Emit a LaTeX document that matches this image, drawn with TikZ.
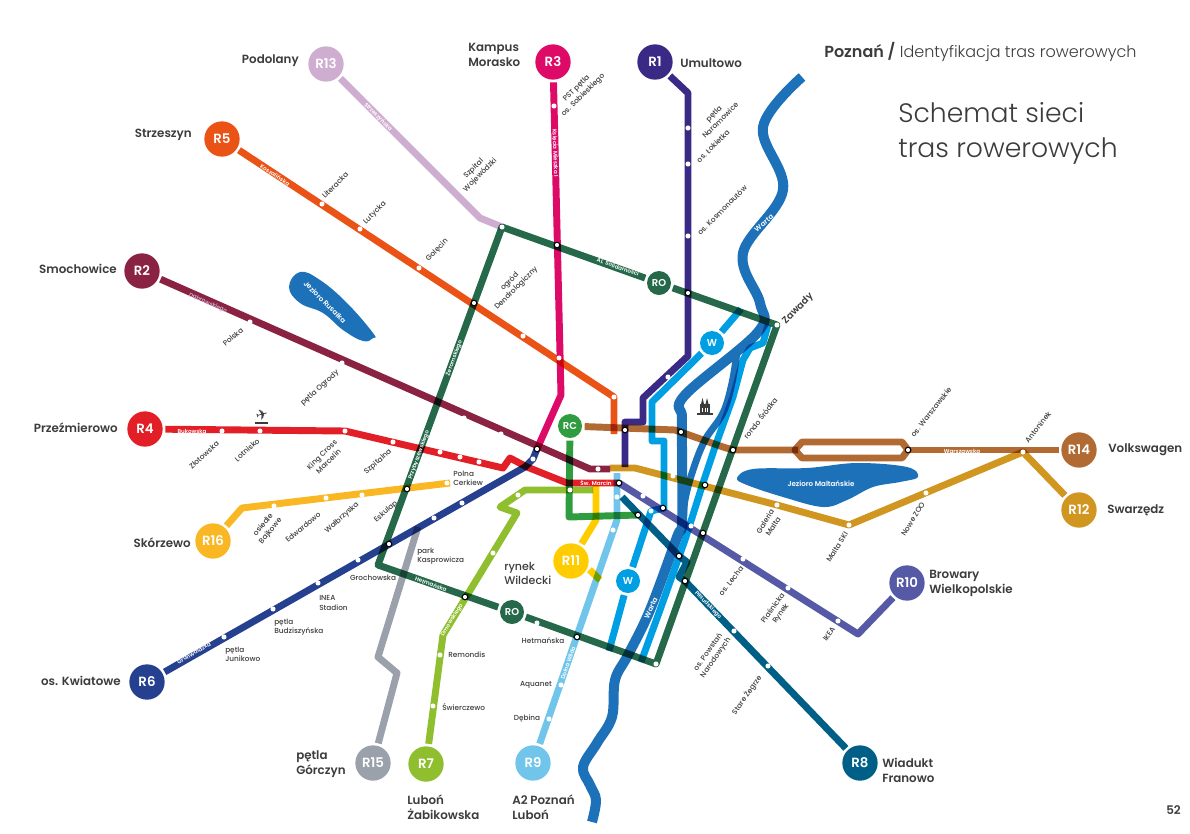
\documentclass[tikz,border=0pt]{standalone}
\usepackage{fontspec}
\setmainfont{Poppins Medium}[BoldFont={Poppins SemiBold}]
\newfontfamily\lightfont{Poppins Light}
\newfontfamily\symfont{DejaVu Sans}
\usetikzlibrary{positioning}
\definecolor{cone}{HTML}{3A2A85}
\definecolor{ctwo}{HTML}{8A2342}
\definecolor{cthree}{HTML}{DE0A68}
\definecolor{cfour}{HTML}{E21E26}
\definecolor{cfive}{HTML}{EB5316}
\definecolor{csix}{HTML}{25408F}
\definecolor{cseven}{HTML}{8FBE2E}
\definecolor{ceight}{HTML}{005F86}
\definecolor{cnine}{HTML}{72C5EA}
\definecolor{cten}{HTML}{5659A5}
\definecolor{celeven}{HTML}{FFCC00}
\definecolor{ctwelve}{HTML}{D09620}
\definecolor{cthirteen}{HTML}{CFADD1}
\definecolor{cfourteen}{HTML}{B26A33}
\definecolor{cfifteen}{HTML}{9BA1AB}
\definecolor{csixteen}{HTML}{F9B823}
\definecolor{crc}{HTML}{2E9C3F}
\definecolor{cro}{HTML}{26694A}
\definecolor{cw}{HTML}{009FE3}
\definecolor{cwarta}{HTML}{1D71B8}
\definecolor{ctext}{HTML}{3C3C3B}
\tikzset{
  routenode/.style={circle,fill=#1,text=white,minimum size=26.5pt,inner sep=0pt,outer sep=2pt,font=\fontsize{10}{10}\selectfont\bfseries},
  smallnode/.style={circle,fill=#1,text=white,minimum size=18pt,inner sep=0pt,outer sep=2pt,font=\fontsize{7.5}{8}\selectfont\bfseries},
  route/.style={draw=#1,line width=5.2pt,line join=round,blend mode=multiply},
  river/.style={draw=cwarta,line width=7.5pt,line join=round},
  stop/.style={circle,fill=white,minimum size=3.8pt,inner sep=0pt},
  hub/.style={circle,fill=white,draw=black,line width=.8pt,minimum size=4.2pt,inner sep=0pt},
  stopname/.style={text=ctext,align=center,inner sep=0pt,font=\fontsize{5.5}{7}\selectfont},
  leftname/.style={text=ctext,align=left,inner sep=0pt,anchor=west,font=\fontsize{5.5}{7}\selectfont},
  placename/.style={text=ctext,align=left,inner sep=0pt,anchor=west,font=\fontsize{8.9}{11.2}\selectfont\bfseries},
  street/.style={text=white,inner sep=0pt,font=\fontsize{4.2}{4.2}\selectfont\bfseries},
  water/.style={text=white,inner sep=0pt,font=\fontsize{5.3}{5.3}\selectfont\bfseries}
}
\begin{document}
\begin{tikzpicture}[x=.75pt,y=-.75pt]
\useasboundingbox (0,0) rectangle (1190,833);

\fill[cwarta] plot[smooth cycle,tension=.7] coordinates {(300,272) (320,280) (347,303) (373,333) (373,338) (363,341) (343,330) (323,313) (300,303) (289,287)};
\fill[cwarta] plot[smooth cycle,tension=.6] coordinates {(737,478) (753,469) (807,468) (857,463) (907,467) (918,477) (900,482) (873,487) (847,500) (823,507) (783,497) (747,485)};
\draw[river] plot[smooth,tension=.6] coordinates {(802,77) (763,127) (783,190) (743,253) (760,303) (758,332) (685,395) (682,417) (682,450) (682,523) (677,537) (650,610) (628,655) (615,680) (612,717) (597,743) (583,767) (590,785) (596,800) (592,822)};
\draw[river,line width=5.2pt] plot[smooth,tension=.6] coordinates {(737,352) (732,383) (723,413) (705,440) (693,470) (685,500) (683,525)};

\node[routenode=cone] (r1) at (655,62) {R1};
\node[routenode=ctwo] (r2) at (142,271) {R2};
\node[routenode=cthree] (r3) at (553,62) {R3};
\node[routenode=cfour] (r4) at (145,429) {R4};
\node[routenode=cfive] (r5) at (222,139) {R5};
\node[routenode=csix] (r6) at (147,682) {R6};
\node[routenode=cseven] (r7) at (426,764) {R7};
\node[routenode=ceight] (r8) at (860,763) {R8};
\node[routenode=cnine] (r9) at (533,763) {R9};
\node[routenode=cten] (r10) at (907,583) {R10};
\node[routenode=celeven] (r11) at (571,561) {R11};
\node[routenode=ctwelve] (r12) at (1079,510) {R12};
\node[routenode=cthirteen] (r13) at (326,64) {R13};
\node[routenode=cfourteen] (r14) at (1079,450) {R14};
\node[routenode=cfifteen] (r15) at (373,763) {R15};
\node[routenode=csixteen] (r16) at (213,541) {R16};
\node[smallnode=crc] (rc) at (570,426) {RC};
\node[smallnode=cro] (rona) at (659,283) {RO};
\node[smallnode=cro] (ronb) at (512,612) {RO};
\node[smallnode=cw] (wa) at (712,343) {W};
\node[smallnode=cw] (wb) at (628,581) {W};

\foreach \n/\x/\y in {
  nw/502/227,ne/777/325,se/656/664,sw/378/565,
  a1/688/93,a2/688/128,a3/688/164,a4/688/236,a5/688/293,a6/688/356,a7/668/377,a8/643/398,a9/643/422,a10/625/422,a11/625/430,a12/625/467,
  b1/250/322,b2/342/363,b3/464/418,b4/501/434,b5/537/449,b6/590/469,b7/598/469,b8/610/469,
  c1/554/106,c2/557/245,c3/559/358,c4/561/395,
  d1/222/431,d2/260/431,d3/345/431,d4/393/442,d5/440/452,d6/460/457,d7/479/462,d8/503/468,d9/510/458,d10/527/467,d11/567/483,d12/619/483,
  e1/322/204,e2/360/229,e3/419/268,e4/474/303,e5/523/336,e6/614/397,e7/614/434,
  f1/224/637,f2/273/609,f3/318/583,f4/358/560,f5/389/544,f6/434/518,f7/462/503,f8/525/467,f9/533/459,
  g1/433/706,g2/440/655,g3/443/635,g4/465/597,g5/493/553,g6/517/513,g7/500/507,g8/518/495,g9/525/490,g10/570/490,g11/593/490,
  h1/622/497,h2/638/515,h3/679/556,h4/687/562,h5/679/577,h6/685/581,h7/734/631,h8/768/666,
  i1/549/719,i2/561/685,i3/577/637,i4/613/530,i5/617/497,i6/617/473,i7/617/520,
  j1/858/634,j2/838/621,j3/788/588,j4/743/559,j5/703/533,j6/691/526,j7/663/508,j8/643/496,
  k1/596/520,k2/596/483,k3/600/580,
  l1/610/468,l2/635/468,l3/673/476,l4/705/485,l5/777/505,l6/849/525,l7/926/493,l8/1023/452,
  m1/480/218,
  o1/675/430,o2/681/432,o3/723/447,o4/733/450,o5/798/450,o6/802/442,o7/902/442,o8/908/450,o9/902/458,o10/802/458,o11/795/450,
  p1/397/673,p2/378/657,p3/418/527,
  q1/242/508,q2/274/506,q3/326/498,q4/362/495,q5/407/489,q6/447/483,q7/450/483,
  s1/569/517,
  u1/741/309,u2/652/402,u3/652/441,u4/664/441,u5/664/508,u6/651/511,u7/609/651,
  v1/768/325,v2/763/343,v3/750/348,v4/743/360,v5/733/397,v6/715/447,v7/703/483,v8/685/540,v9/660/610,v10/641/662,
  x1/537/623}
  \coordinate (\n) at (\x,\y);

\draw[route=cone] (r1) -- (a1) -- (a6) -- (a8) -- (a9) -- (a10) -- (a12);
\draw[route=ctwo] (r2) -- (b6) -- (b8);
\draw[route=cthree] (r3) -- (c4) -- (b5);
\draw[route=cfour] (r4) -- (d3) -- (d8) -- (d9) -- (d10) -- (d11) -- (d12);
\draw[route=cfive] (r5) -- (e6) -- (e7);
\draw[route=csix] (r6) -- (f8) -- (f9) -- (b5);
\draw[route=cseven] (r7) -- (g3) -- (g6) -- (g7) -- (g9) -- (g11);
\draw[route=ceight] (r8) -- (h6) -- (h5) -- (h4) -- (h3) -- (h1);
\draw[route=cnine] (r9) -- (i7) -- (i6);
\draw[route=cten] (r10) -- (j1) -- (d12);
\draw[route=celeven] (r11) -- (k1) -- (k2);
\draw[route=celeven] (r11.-25) -- (k3);
\draw[route=ctwelve] (r12) -- (l8) -- (l6) -- (l5) -- (l2) -- (l1);
\draw[route=cthirteen] (r13) -- (m1) -- (nw);
\draw[route=cfourteen] (rc) -- (o1) -- (o3) -- (o4) -- (o5);
\draw[route=cfourteen] (o11) -- (o6) -- (o7) -- (o8) -- (o9) -- (o10) -- cycle;
\draw[route=cfourteen] (o8) -- (r14);
\draw[route=cfifteen] (r15) -- (p1) -- (p2) -- (p3);
\draw[route=csixteen] (r16) -- (q1) -- (q7);
\draw[route=crc] (rc) -- (s1) -- (h2);
\draw[route=cro] (rona) -- (ne) -- (se) -- (ronb) -- (sw) -- (nw) -- (rona);
\draw[route=cw] (u1) -- (wa) -- (u2) -- (u3) -- (u4) -- (u5) -- (u6) -- (wb) -- (u7);
\draw[route=cw] (v1) -- (v2) -- (v3) -- (v4) -- (v5) -- (v6) -- (v7) -- (v8) -- (v9) -- (v10);

\foreach \n in {a2,a3,a4,a7,b1,b2,b3,b4,b7,c1,c3,d1,d2,d3,d4,d5,d6,d7,e1,e2,e3,e5,e6,f1,f2,f3,f4,f6,f7,f9,g1,g2,g5,g8,g10,h7,h8,i1,i2,i4,i5,j2,j3,j4,j6,j8,l3,l5,l6,l7,l8,ne,se,nw,q2,q3,q4,q6,x1,u6}
  \node[stop] (s\n) at (\n) {};
\foreach \n in {a5,a11,b5,c2,d12,e4,f5,g4,h2,h3,h6,i3,j5,j7,l4,o2,o4,o8,q5}
  \node[hub] (t\n) at (\n) {};

\node[stopname,rotate=42] (n1) at (204,455) {Złotowska};
\node[stopname,rotate=42] (n2) at (247,450) {Lotnisko};
\node[stopname,rotate=45] (n3) at (325,458) {King Cross\\Marcelin};
\node[stopname,rotate=42] (n4) at (378,462) {Szpitalna};
\node[leftname] (n5) at (453,478) {Polna\\Cerkiew};
\node[stopname,rotate=50] (n6) at (267,528) {osiedle\\Bajkowe};
\node[stopname,rotate=40] (n7) at (303,527) {Edwardowo};
\node[stopname,rotate=42] (n8) at (342,518) {Wałbrzyska};
\node[stopname,rotate=42] (n9) at (386,512) {Eskulap};
\node[leftname] (n10) at (417,556) {park\\Kasprowicza};
\node[stopname] (n11) at (373,578) {Grochowska};
\node[leftname] (n12) at (319,603) {INEA\\Stadion};
\node[leftname] (n13) at (274,627) {pętla\\Budziszyńska};
\node[leftname] (n14) at (225,654) {pętla\\Junikowo};
\node[leftname] (n15) at (448,655) {Remondis};
\node[leftname] (n16) at (442,707) {Świerczewo};
\node[stopname] (n17) at (543,641) {Hetmańska};
\node[stopname] (n18) at (536,685) {Aquanet};
\node[stopname] (n19) at (527,718) {Dębina};
\node[stopname,rotate=52] (n20) at (731,581) {os. Lecha};
\node[stopname,rotate=58] (n21) at (769,524) {Galeria\\Malta};
\node[stopname,rotate=58] (n22) at (837,547) {Malta SKI};
\node[stopname,rotate=58] (n23) at (913,519) {Nowe ZOO};
\node[stopname,rotate=52] (n24) at (1038,427) {Antoninek};
\node[stopname,rotate=52] (n25) at (931,412) {os. Warszawskie};
\node[stopname,rotate=52] (n26) at (760,418) {rondo Śródka};
\node[stopname,rotate=55] (n27) at (777,611) {Piaśnicka\\Rynek};
\node[stopname,rotate=55] (n28) at (829,634) {IKEA};
\node[stopname,rotate=55] (n29) at (712,655) {os. Powstań\\Narodowych};
\node[stopname,rotate=55] (n30) at (747,695) {Stare Żegrze};
\node[stopname,rotate=45] (n31) at (717,117) {pętla\\Naramowice};
\node[stopname,rotate=45] (n32) at (713,146) {os. Łokietka};
\node[stopname,rotate=45] (n33) at (722,210) {os. Kosmonautów};
\node[stopname,rotate=45] (n34) at (580,92) {PST pętla\\os. Sobieskiego};
\node[stopname,rotate=45] (n35) at (477,172) {Szpital\\Wojewódzki};
\node[stopname,rotate=45] (n36) at (335,185) {Literacka};
\node[stopname,rotate=45] (n37) at (375,213) {Lutycka};
\node[stopname,rotate=45] (n38) at (437,250) {Golęcin};
\node[stopname,rotate=45] (n39) at (513,285) {ogród\\Dendrologiczny};
\node[stopname,rotate=40] (n40) at (233,337) {Polska};
\node[stopname,rotate=42] (n41) at (320,388) {pętla Ogrody};

\node[street] (v1n) at (192,431) {Bukowska};
\node[street] (v2n) at (596,483) {Św. Marcin};
\node[street] (v3n) at (962,451) {Warszawska};
\node[street,rotate=-33] (v4n) at (275,175) {Koszalińska};
\node[street,rotate=-24,text=cthirteen] (v5n) at (208,303) {Dąbrowskiego};
\node[street,rotate=30] (v6n) at (194,653) {Grunwaldzka};
\node[street,rotate=-20] (v7n) at (431,584) {Hetmańska};
\node[street,rotate=71] (v8n) at (568,663) {Dolna Wilda};
\node[street,rotate=70] (v9n) at (419,455) {Przybyszewskiego};
\node[street,rotate=70] (v10n) at (454,358) {Żeromskiego};
\node[street,rotate=-19] (v11n) at (618,267) {Al. Solidarności};
\node[street,rotate=-45] (v12n) at (378,117) {Strzeszyńska};
\node[street,rotate=-88] (v13n) at (555,153) {Księcia Mieszka I};
\node[street,rotate=58] (v14n) at (452,620) {Dmowskiego};
\node[street,rotate=-46] (v15n) at (708,605) {Piłsudskiego};
\node[water,rotate=66] (v16n) at (651,608) {Warta};
\node[water,rotate=40] (v17n) at (764,223) {Warta};
\node[water,rotate=-45] (v18n) at (325,302) {Jezioro Rusałka};
\node[water] (v19n) at (821,484) {Jezioro Maltańskie};

\node[placename,anchor=east] (p1n) at (299,61) {Podolany};
\node[placename,anchor=east] (p2n) at (192,135) {Strzeszyn};
\node[placename,anchor=east] (p3n) at (117,269) {Smochowice};
\node[placename,anchor=east] (p4n) at (118,428) {Przeźmierowo};
\node[placename,anchor=east] (p5n) at (191,543) {Skórzewo};
\node[placename,anchor=east] (p6n) at (121,681) {os. Kwiatowe};
\node[placename] (p7n) at (296,764.5) {pętla\\Górczyn};
\node[placename] (p8n) at (468,54.5) {Kampus\\Morasko};
\node[placename] (p9n) at (680,63) {Umultowo};
\node[placename] (p10n) at (929,583) {Browary\\Wielkopolskie};
\node[placename] (p11n) at (1108,450) {Volkswagen};
\node[placename] (p12n) at (1107,510) {Swarzędz};
\node[placename] (p13n) at (882,770) {Wiadukt\\Franowo};
\node[placename] (p14n) at (512,807.5) {A2 Poznań\\Luboń};
\node[placename] (p15n) at (407,807.5) {Luboń\\Żabikowska};
\node[placename,font=\fontsize{8.3}{11}\selectfont] (p16n) at (504,573.5) {rynek\\Wildecki};
\node[placename,rotate=45,anchor=center,align=center,font=\fontsize{7.2}{8}\selectfont\bfseries] (p17n) at (798,309) {Zawady};
\node[placename,anchor=east] (p18n) at (1181,810) {52};

\node[text=ctext,inner sep=0pt,anchor=west,font=\lightfont\fontsize{12}{14}\selectfont] (head) at (824,52) {{\rmfamily\bfseries Poznań /} Identyfikacja tras rowerowych};
\node[text=ctext,inner sep=0pt,anchor=west,align=left,font=\lightfont\fontsize{20}{26.3}\selectfont] (title) at (898,133) {Schemat sieci\\tras rowerowych};

\node[text=ctext,rotate=15,inner sep=0pt,font=\symfont\fontsize{11}{11}\selectfont] (plane) at (262,415) {✈};
\draw[ctext,line width=.9pt] (255,423) -- (268,423);
\fill[ctext] (700,404) rectangle (709.5,413);
\fill[ctext] (697,413) rectangle (712.5,415);
\fill[ctext] (701,404) -- (702.5,398) -- (704,404) -- cycle;
\fill[ctext] (705.5,404) -- (707,398) -- (708.5,404) -- cycle;
\fill[white] (702,408) rectangle (703,412);
\fill[white] (704.5,408) rectangle (705.5,412);
\fill[white] (707,408) rectangle (708,412);
\end{tikzpicture}
\end{document}
